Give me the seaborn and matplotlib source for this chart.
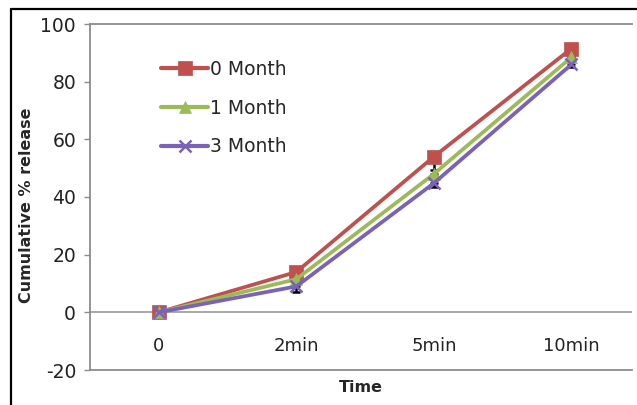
import matplotlib
matplotlib.use("Agg")
import matplotlib.pyplot as plt
import seaborn as sns
import pandas as pd
from matplotlib.lines import Line2D

times = ["0", "2min", "5min", "10min"]
month0 = [0, 14.0, 54.0, 91.5]
month1 = [0, 11.5, 48.0, 88.5]
month3 = [0, 9.0, 44.8, 86.0]
err0 = [0, 0.8, 4.5, 1.0]
err1 = [0, 0.8, 1.5, 0.8]
err3 = [0, 2.0, 1.5, 0.8]
series = ["0 Month", "1 Month", "3 Month"]
yticks = [-20, 0, 20, 40, 60, 80, 100]

rows = []
for name, vals in zip(series, [month0, month1, month3]):
    for t, v in zip(times, vals):
        rows.append({"Time": t, "value": v, "series": name})
df = pd.DataFrame(rows)

sns.set_theme(style="white")
plt.rcParams["font.family"] = ["DejaVu Sans"]
plt.rcParams["axes.unicode_minus"] = False

fig = plt.figure(figsize=(6.37, 4.05), dpi=100)
ax = fig.add_axes([90/637, 1-370/405, (632-90)/637, (370-24)/405])

palette = {"0 Month": "#C0504D", "1 Month": "#9BBB59", "3 Month": "#7A62B8"}
markers = {"0 Month": "s", "1 Month": "^", "3 Month": "x"}
msizes = {"0 Month": 10, "1 Month": 9, "3 Month": 9}

# error bars (black), lower side only visible
xpos = list(range(len(times)))
for vals, err in zip([month0, month1, month3], [err0, err1, err3]):
    ax.errorbar(xpos, vals, yerr=[err, [0]*len(err)], fmt="none", ecolor="black",
                elinewidth=1.8, capsize=3, capthick=1.8, zorder=1)

for name in series:
    sub = df[df["series"] == name]
    sns.lineplot(data=sub, x="Time", y="value", color=palette[name],
                 marker=markers[name], markersize=msizes[name], sort=False,
                 markeredgewidth=1.8 if name == "3 Month" else 0.5,
                 markeredgecolor=palette[name],
                 linewidth=2.7, label=name, ax=ax, zorder=3)

ax.set_xlim(-0.5, 3.44)
ax.set_ylim(-20, 100)
ax.set_yticks(yticks)
ax.set_xticks(xpos)
ax.set_xticklabels(times)
ax.axhline(0, color="#9a9a9a", lw=1.2, zorder=0)

for s in ["left", "bottom", "top"]:
    ax.spines[s].set_color("#8c8c8c")
    ax.spines[s].set_linewidth(1.3)
ax.spines["right"].set_visible(False)

ax.tick_params(axis="y", direction="out", length=4, color="#8c8c8c", width=1,
               labelsize=13.5, labelcolor="#222222", pad=6, left=True)
ax.tick_params(axis="x", length=0, labelsize=13, labelcolor="#222222", pad=-23.5)

ax.set_xlabel("Time", fontsize=11.5, fontweight="bold", labelpad=7)
ax.set_ylabel("Cumulative % release", fontsize=11.5, fontweight="bold")
ax.yaxis.set_label_coords(-0.103, 0.475)

leg = ax.legend(loc="upper left", bbox_to_anchor=(0.1, 0.945), frameon=False,
                fontsize=13.5, handlelength=2.5, handletextpad=0.1, labelspacing=1.05)
for h in leg.legend_handles:
    h.set_linewidth(3.0)

# outer border
fig.add_artist(Line2D([11/637, 11/637], [0, 1-9/405], color="black", lw=1.6))
fig.add_artist(Line2D([11/637, 1], [1-9/405, 1-9/405], color="black", lw=1.6))

fig.savefig("out.png", dpi=100)
